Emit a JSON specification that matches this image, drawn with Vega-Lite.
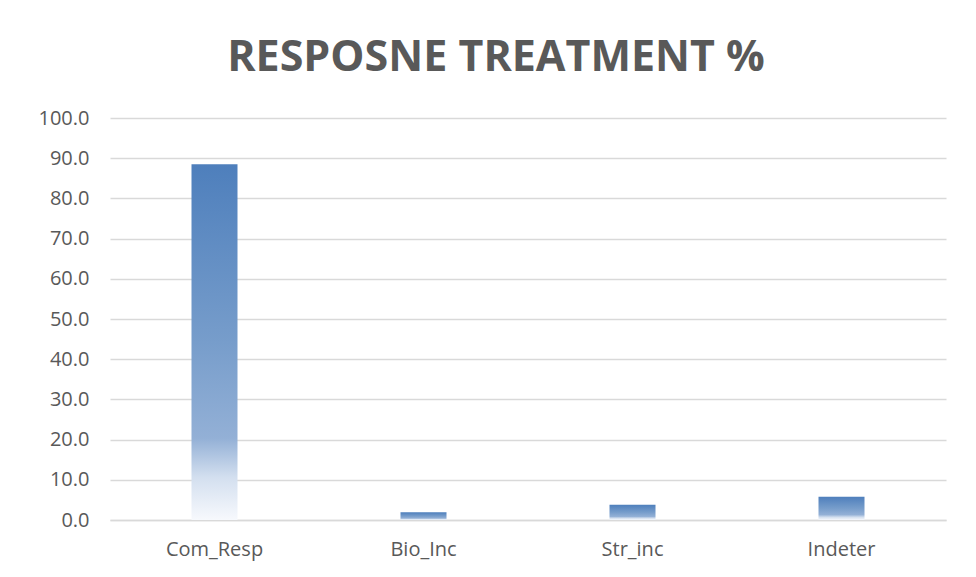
{
  "$schema": "https://vega.github.io/schema/vega-lite/v6.json",
  "autosize": {"type": "none"},
  "padding": {"left": 110, "top": 118, "right": 30, "bottom": 57},
  "width": 836,
  "height": 402,
  "background": "white",
  "title": {
    "text": "RESPOSNE TREATMENT %",
    "font": "Open Sans",
    "fontSize": 43,
    "fontWeight": "bold",
    "color": "#595959",
    "anchor": "middle",
    "frame": "group",
    "offset": 28,
    "dx": -32
  },
  "data": {
    "values": [
      {"category": "Com_Resp", "value": 88.5},
      {"category": "Bio_Inc", "value": 1.9},
      {"category": "Str_inc", "value": 3.8},
      {"category": "Indeter", "value": 5.8}
    ]
  },
  "mark": {
    "type": "bar",
    "size": 46,
    "color": {
      "gradient": "linear",
      "x1": 0, "y1": 0, "x2": 0, "y2": 1,
      "stops": [
        {"offset": 0, "color": "#4e7fbc"},
        {"offset": 0.5, "color": "#779dcb"},
        {"offset": 0.77, "color": "#93b0d6"},
        {"offset": 0.88, "color": "#d3dfef"},
        {"offset": 1, "color": "#f7f9fd"}
      ]
    }
  },
  "encoding": {
    "x": {
      "field": "category",
      "type": "nominal",
      "sort": null,
      "title": null,
      "axis": {
        "labelAngle": 0,
        "labelFont": "Open Sans",
        "labelFontSize": 20,
        "labelColor": "#595959",
        "labelPadding": 19,
        "domainColor": "#d9d9d9",
        "domainWidth": 1.5,
        "ticks": false
      }
    },
    "y": {
      "field": "value",
      "type": "quantitative",
      "title": null,
      "scale": {"domain": [0, 100]},
      "axis": {
        "values": [0, 10, 20, 30, 40, 50, 60, 70, 80, 90, 100],
        "format": ".1f",
        "labelFont": "Open Sans",
        "labelFontSize": 20,
        "labelColor": "#595959",
        "labelPadding": 21,
        "domain": false,
        "ticks": false,
        "gridColor": "#d9d9d9",
        "gridWidth": 1.5
      }
    }
  },
  "config": {"view": {"stroke": null}}
}
